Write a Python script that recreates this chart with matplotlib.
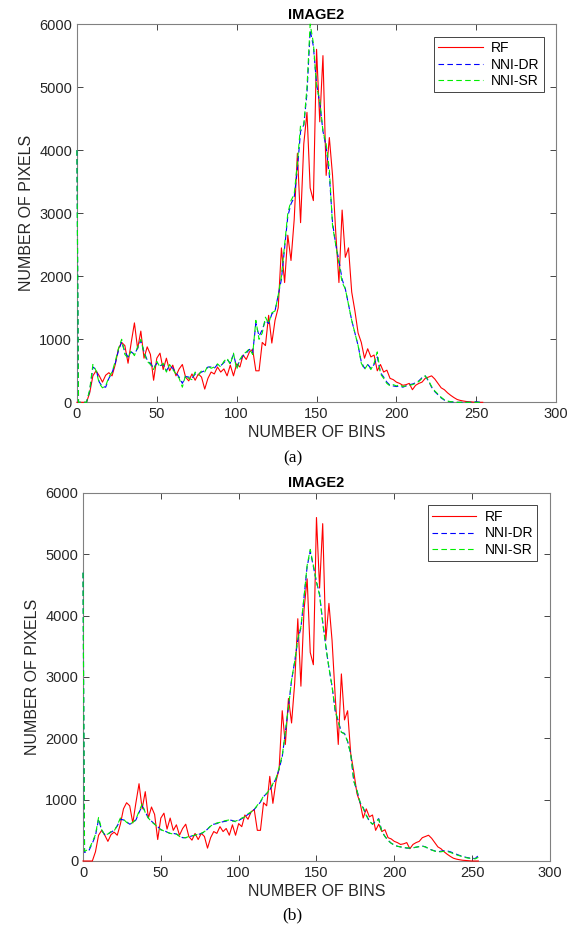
import matplotlib.pyplot as plt

plt.rcParams['font.family'] = ['Liberation Sans', 'DejaVu Sans']

# histogram bins (bin 0, bin 1, then every second bin)
bins = [0, 1] + list(range(2, 256, 2))

# RF curve (same in both panels)
rf = [0, 0, 0, 0, 0, 150, 420, 500, 420, 320, 430,
      470, 420, 600, 850, 950, 900, 620, 950, 1260, 850,
      1130, 700, 880, 760, 350, 700, 780, 520, 700, 500,
      590, 420, 530, 600, 400, 340, 450, 350, 450, 400,
      210, 380, 480, 450, 560, 480, 530, 420, 590, 420,
      610, 560, 750, 680, 800, 840, 500, 500, 950, 900,
      1380, 940, 1300, 1500, 2450, 1900, 2650, 2250, 2900, 3950,
      2850, 4100, 4600, 3400, 3200, 5600, 4450, 5500, 3600, 4200,
      3600, 2700, 1900, 3050, 2300, 2450, 1750, 1450, 1100, 950,
      700, 850, 720, 750, 500, 600, 480, 510, 380, 360,
      320, 300, 270, 280, 300, 200, 270, 300, 320, 380,
      400, 420, 370, 300, 230, 200, 150, 110, 75, 45,
      30, 20, 12, 8, 4, 0, 0, 0]

# panel (a)
dr_a = [4000, 0, 0, 0, 0, 180, 560, 520, 320, 250, 240,
        380, 470, 620, 820, 960, 800, 720, 800, 760, 860,
        980, 800, 670, 620, 540, 620, 580, 600, 500, 580,
        540, 470, 400, 300, 410, 400, 380, 450, 450, 480,
        500, 560, 560, 540, 600, 580, 630, 680, 620, 760,
        560, 660, 740, 780, 840, 780, 1250, 1050, 1150, 1300,
        1250, 1400, 1450, 1700, 1950, 2450, 2950, 3150, 3250, 3700,
        4300, 4400, 4900, 5900, 5650, 5050, 4750, 4300, 4050, 3600,
        2850, 2500, 2250, 1950, 1800, 1550, 1300, 1100, 900, 640,
        540, 600, 540, 600, 720, 470, 400, 320, 270, 260,
        250, 260, 240, 260, 280, 290, 310, 340, 390, 420,
        340, 240, 170, 120, 70, 35, 15, 8, 3, 0,
        0, 0, 0, 0, 0, 10, 0, 0]
sr_a = [4000, 0, 0, 0, 0, 200, 600, 500, 300, 230, 260,
        400, 480, 650, 850, 1000, 760, 700, 820, 740, 880,
        1000, 780, 650, 600, 520, 650, 560, 620, 480, 600,
        520, 450, 380, 240, 430, 380, 360, 480, 430, 500,
        480, 580, 540, 560, 610, 560, 650, 700, 600, 780,
        520, 680, 760, 800, 850, 760, 1300, 1000, 1100, 1350,
        1250, 1420, 1450, 1700, 2000, 2500, 3000, 3200, 3300, 3800,
        4400, 4400, 5000, 6000, 5700, 5000, 4800, 4300, 4100, 3700,
        2800, 2500, 2200, 1900, 1800, 1550, 1300, 1100, 900, 620,
        520, 600, 520, 620, 800, 450, 380, 300, 260, 280,
        260, 280, 250, 260, 270, 280, 300, 330, 380, 420,
        350, 250, 180, 130, 80, 40, 20, 10, 5, 0,
        0, 0, 0, 0, 0, 0, 0, 0]

# panel (b)
dr_b = [4700, 140, 150, 180, 290, 410, 680, 500, 430, 440, 470,
        500, 570, 680, 670, 640, 600, 620, 670, 790, 900,
        800, 700, 650, 600, 560, 510, 500, 470, 450, 450,
        440, 410, 380, 380, 390, 410, 420, 430, 450, 470,
        520, 570, 600, 610, 630, 640, 650, 670, 660, 640,
        660, 690, 720, 760, 790, 840, 900, 960, 1050, 1100,
        1160, 1250, 1340, 1500, 1700, 2100, 2500, 2950, 3250, 3600,
        3800, 4300, 4800, 5050, 4800, 4550, 4350, 3900, 3500, 3150,
        2850, 2450, 2280, 2100, 2080, 1950, 1750, 1300, 1150, 950,
        870, 750, 650, 600, 650, 690, 480, 400, 340, 290,
        260, 240, 230, 220, 210, 210, 215, 225, 235, 245,
        230, 200, 180, 165, 150, 160, 170, 165, 150, 130,
        110, 90, 75, 60, 50, 45, 40, 90]
sr_b = [4700, 160, 170, 200, 310, 430, 710, 510, 420, 440, 480,
        490, 580, 700, 680, 630, 600, 630, 680, 810, 930,
        790, 700, 640, 600, 550, 510, 490, 470, 450, 440,
        440, 400, 380, 380, 400, 410, 420, 440, 450, 480,
        520, 570, 600, 620, 630, 650, 660, 670, 650, 650,
        670, 700, 720, 770, 800, 840, 910, 970, 1060, 1100,
        1170, 1260, 1350, 1520, 1720, 2100, 2500, 2950, 3250, 3620,
        3820, 4300, 4820, 5080, 4820, 4550, 4330, 3880, 3500, 3150,
        2850, 2450, 2270, 2100, 2070, 1950, 1740, 1300, 1150, 960,
        860, 740, 650, 600, 640, 680, 480, 400, 330, 290,
        260, 240, 230, 220, 215, 210, 215, 225, 235, 240,
        230, 205, 180, 160, 150, 150, 160, 155, 140, 120,
        100, 85, 70, 55, 45, 40, 35, 60]

fig = plt.figure(figsize=(5.74, 9.27), dpi=100)
ax_a = fig.add_axes([0.134, 0.566, 0.835, 0.408])
ax_b = fig.add_axes([0.1446, 0.0712, 0.8135, 0.397])

for ax, dr, sr in [(ax_a, dr_a, sr_a), (ax_b, dr_b, sr_b)]:
    ax.plot(bins, rf, color='#ff0000', lw=0.8, label='RF', zorder=3, clip_on=False)
    ax.plot(bins, dr, color='#0000ff', lw=0.8, ls=(0, (5, 3)), label='NNI-DR',
            zorder=3, clip_on=False)
    ax.plot(bins, sr, color='#00ee00', lw=0.8, ls=(0, (5, 3)), label='NNI-SR',
            zorder=3, clip_on=False)
    ax.set_xlim(0, 300)
    ax.set_ylim(0, 6000)
    ax.set_xticks([0, 50, 100, 150, 200, 250, 300])
    ax.set_yticks([0, 1000, 2000, 3000, 4000, 5000, 6000])
    ax.tick_params(direction='in', top=True, right=True, length=4,
                   labelsize=10.5, colors='#262626', width=0.6)
    for sp in ax.spines.values():
        sp.set_color('#808080')
        sp.set_linewidth(0.8)
    ax.set_title('IMAGE2', fontsize=10.5, fontweight='bold', pad=4)
    ax.set_xlabel('NUMBER OF BINS', fontsize=11.5, color='#262626', labelpad=3)
    ax.set_ylabel('NUMBER OF PIXELS', fontsize=11.5, color='#262626', labelpad=4)
    leg = ax.legend(loc='upper right', fontsize=10, handlelength=3.2,
                    fancybox=False, framealpha=1, borderaxespad=0.9,
                    handletextpad=0.6, labelspacing=0.2, borderpad=0.3)
    leg.set_zorder(5)
    leg.get_frame().set_edgecolor('#262626')
    leg.get_frame().set_linewidth(0.6)

fig.text(0.51, 0.506, '(a)', ha='center', va='center', fontsize=12.5,
         family='Liberation Serif')
fig.text(0.51, 0.012, '(b)', ha='center', va='center', fontsize=12.5,
         family='Liberation Serif')

fig.savefig('out.png', dpi=100)
